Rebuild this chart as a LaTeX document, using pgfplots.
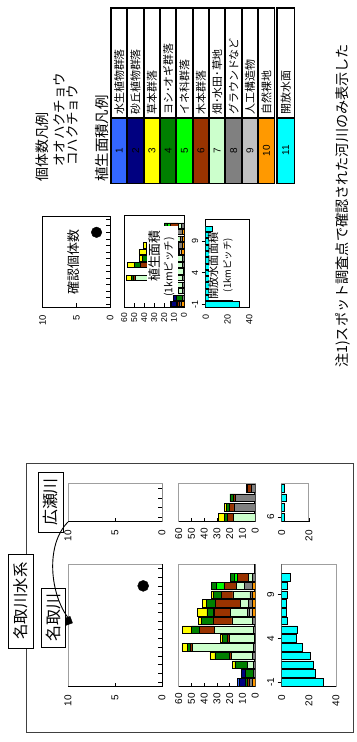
\documentclass[border=0pt]{standalone}
\usepackage{fontspec}
\setmainfont{Liberation Sans}
\newfontfamily\jp{Noto Sans CJK JP}
\usepackage{pgfplots}
\usepackage{pgfplotstable}
\pgfplotsset{compat=1.18}

\definecolor{c1}{RGB}{51,102,255}
\definecolor{c2}{RGB}{0,0,128}
\definecolor{c3}{RGB}{255,255,0}
\definecolor{c4}{RGB}{0,128,0}
\definecolor{c5}{RGB}{0,255,0}
\definecolor{c6}{RGB}{153,51,0}
\definecolor{c7}{RGB}{204,255,204}
\definecolor{c8}{RGB}{128,128,128}
\definecolor{c9}{RGB}{192,192,192}
\definecolor{c10}{RGB}{255,153,0}
\definecolor{c11}{RGB}{0,255,255}

\newcommand{\fs}[1]{\fontsize{#1}{#1}\selectfont}

% Natori river: vegetation area per 1 km (ha), categories 1..10
\pgfplotstableread{
km c1 c2 c3 c4 c5 c6 c7 c8 c9 c10
-1 1.6 4.5 0 1.5 0 2.1 0 2.1 0 2.3
0 0 2.7 0 6.5 0 0 0 1.5 0 0
1 0 0 1.8 10 0 0 4.7 1.3 0 0
2 0 0 3.9 11.2 0 1.5 16.9 2 0 0
3 0 0 4.4 2.1 0 2.1 47.5 1.5 0 0
4 0 0 1.8 3.5 0 1.8 19.3 1 0 0
5 0 0 7 6 0 11.7 30.7 1.5 0 0
6 0 0 2.5 8.8 0 14.9 16.4 2 0 0
7 0 0 7.3 5.2 1 12 13.8 1.3 2.1 2.6
8 0 0 3.1 7 0 19.6 6 3.4 0 2.1
9 0 0 1.8 6.5 0 8.9 13.3 2.1 0 2.1
10 0 0 0 3.9 5.7 9.7 6.3 6.5 0 2.1
11 0 0 0 2.9 2.6 8.4 3.4 2.3 0 0
}\vegN
\pgfplotstableread{
km w
-1 30.5
0 24.5
1 23.3
2 21.3
3 15.5
4 10.5
5 11.5
6 4.4
7 3.7
8 3.7
9 4.4
10 4.2
11 6.1
}\watN
% Hirose river
\pgfplotstableread{
km c1 c2 c3 c4 c5 c6 c7 c8 c9 c10
6 0 0 4.3 2.5 0 5 17 0 0 0
7 0 0 1.5 2.2 0 3.5 0 16.8 0 0
8 0 0 0 2.6 0 1.9 0 15.5 0 0
9 0 0 0 1.2 0 2.5 0 3.5 0 0
}\vegH
\pgfplotstableread{
km w
6 2
7 2
8 3.2
9 2
}\watH

\pgfplotsset{
  base/.style={scale only axis, anchor=center,
    /pgf/number format/assume math mode=true,
    tick label style={font=\fs{10}},
    xticklabel style={rotate=90, anchor=east},
    yticklabel style={rotate=90, anchor=south},
    tick style={black, line width=0.6pt},
    major tick length=4bp,
    xtick pos=bottom,
    axis line style={draw=gray!75, line width=0.8pt}},
  cnt/.style={base, xmin=0, xmax=10, x dir=reverse, xtick={0,5,10}, ytick pos=right, yticklabels={}, xticklabel shift=5bp},
  veg/.style={base, xmin=0, xmax=60, x dir=reverse, xtick={0,10,...,60}, ytick=\empty, xbar stacked, xticklabel shift=3bp},
  wat/.style={base, xmin=0, xbar, ytick pos=left, xticklabel shift=5bp},
  blackbox/.style={axis line style={draw=black, line width=1pt}},
}
\newcommand{\vegplots}[1]{%
  \pgfplotsinvokeforeach{10,9,8,7,6,5,4,3,2,1}{%
    \addplot[fill=c##1, draw=black, line width=0.5pt] table[x=c##1, y=km]{#1};}}

\begin{document}
\begin{tikzpicture}
\useasboundingbox (0bp,0bp) rectangle (357bp,-742bp);
\fill[white] (0bp,0bp) rectangle (357bp,-742bp);

% ---------------- Natori river ----------------
\begin{axis}[cnt, at={(115bp,-625.25bp)}, width=94bp, height=122.5bp,
  ymin=-1.5, ymax=12.5, ytick={-1,...,12}, clip=false]
\addplot[only marks, mark=*, mark size=5.5bp, black] coordinates {(2,10)};
\addplot[only marks, mark=square*, mark size=3.5bp, black, mark options={rotate=20}] coordinates {(10,6)};
\draw[black, line width=1pt] (axis cs:0,-1.5) -- (axis cs:0,12.5);
\draw[black, line width=1pt] (axis cs:0,-1.5) -- (axis cs:10,-1.5);
\end{axis}

\begin{axis}[veg, at={(217bp,-625.25bp)}, width=76.6bp, height=122.5bp,
  ymin=-1.5, ymax=12.5, bar width=7.4bp]
\vegplots{\vegN}
\draw[black, line width=1.8pt] (axis cs:0,-1.5) -- (axis cs:0,12.5);
\draw[black, line width=1pt] (axis cs:0,-1.5) -- (axis cs:60,-1.5);
\end{axis}

\begin{axis}[wat, at={(308.85bp,-625.25bp)}, width=54.3bp, height=122.5bp,
  xmax=40, xtick={0,20,40}, ymin=-1.5, ymax=12.5, ytick={-1,4,9}, bar width=7.4bp]
\addplot[fill=c11, draw=black, line width=0.5pt] table[x=w, y=km]{\watN};
\draw[black, line width=1.4pt] (axis cs:0,-1.5) -- (axis cs:0,12.5);
\draw[black, line width=1pt] (axis cs:0,-1.5) -- (axis cs:40,-1.5);
\end{axis}

% ---------------- Hirose river ----------------
\begin{axis}[cnt, at={(115bp,-502.6bp)}, width=94bp, height=38.2bp,
  ymin=5.5, ymax=9.5, ytick={6,7,8,9}]
\draw[black, line width=1pt] (axis cs:0,5.5) -- (axis cs:0,9.5);
\draw[black, line width=1pt] (axis cs:0,5.5) -- (axis cs:10,5.5);
\end{axis}

\begin{axis}[veg, at={(217bp,-502.6bp)}, width=76.6bp, height=38.2bp,
  ymin=5.5, ymax=9.5, bar width=7.8bp]
\vegplots{\vegH}
\draw[black, line width=1.8pt] (axis cs:0,5.5) -- (axis cs:0,9.5);
\draw[black, line width=1pt] (axis cs:0,5.5) -- (axis cs:60,5.5);
\end{axis}

\begin{axis}[wat, at={(295.3bp,-502.6bp)}, width=27.15bp, height=38.2bp,
  xmax=20, xtick={0,20}, ymin=5.5, ymax=9.5, ytick={6}, bar width=7.8bp]
\addplot[fill=c11, draw=black, line width=0.5pt] table[x=w, y=km]{\watH};
\draw[black, line width=1.4pt] (axis cs:0,5.5) -- (axis cs:0,9.5);
\draw[black, line width=1pt] (axis cs:0,5.5) -- (axis cs:20,5.5);
\end{axis}

% ---------------- legend sample panels ----------------
\begin{axis}[cnt, blackbox, at={(76.35bp,-261.65bp)}, width=67.3bp, height=91.3bp,
  ymin=-1.5, ymax=12.5, ytick={-1,...,12}, tick label style={font=\fs{9.5}}, xticklabel shift=4bp]
\addplot[only marks, mark=*, mark size=5.3bp, black] coordinates {(2,10)};
\end{axis}

\begin{axis}[veg, blackbox, at={(154.15bp,-261.5bp)}, width=59.7bp, height=91.6bp,
  ymin=-1.5, ymax=12.5, bar width=5.3bp, tick label style={font=\fs{8.5}}, xticklabel shift=2bp]
\vegplots{\vegN}
\end{axis}

\begin{axis}[wat, blackbox, at={(227.5bp,-263.3bp)}, width=43.6bp, height=88bp,
  xmax=40, xtick={0,20,40}, ymin=-1.5, ymax=12.5, ytick={-1,4,9}, bar width=5.2bp,
  tick label style={font=\fs{9}}, xticklabel shift=4bp]
\addplot[fill=c11, draw=black, line width=0.5pt] table[x=w, y=km]{\watN};
\end{axis}

% ---------------- texts, frames, legend table ----------------
\begin{scope}[x=1bp, y=-1bp]
\draw[black!75, line width=1pt] (26,463) rectangle (353,732);
\node[draw, line width=0.9pt, fill=white, rotate=90, minimum width=94bp, minimum height=25bp, inner sep=0pt, font=\jp\fs{15.5}] at (20.5,601) {名取川水系};
\node[draw, line width=0.9pt, fill=white, rotate=90, minimum width=59bp, minimum height=24bp, inner sep=0pt, font=\jp\fs{16}] at (53,617.5) {名取川};
\node[draw, line width=0.9pt, fill=white, rotate=90, minimum width=60bp, minimum height=25bp, inner sep=0pt, font=\jp\fs{16}] at (50.5,502) {広瀬川};
\draw[line width=0.9pt] (69,619) .. controls (50,595) and (45,545) .. (68,522);

% sample panel captions
\node[rotate=90, font=\jp\fs{13}] at (74,262) {確認個体数};
\fill[white] (147,226) rectangle (178,295);
\node[rotate=90, font=\jp\fs{13}] at (155,256) {植生面積};
\node[rotate=90, font=\jp\fs{10.5}] at (169,267) {(1kmピッチ)};
\fill[white] (208.5,233) rectangle (240,300);
\node[rotate=90, font=\jp\fs{11.3}] at (213,266) {開放水面面積};
\node[rotate=90, font=\jp\fs{9.5}] at (228,265) {(1kmピッチ)};

% legend headings
\node[rotate=90, anchor=west, inner sep=0pt, font=\jp\fs{14}] at (42,182) {個体数凡例};
\node[rotate=90, anchor=west, inner sep=0pt, font=\jp\fs{13.5}] at (59,167) {オオハクチョウ};
\node[rotate=90, anchor=west, inner sep=0pt, font=\jp\fs{13.5}] at (72,166) {コハクチョウ};
\node[rotate=90, anchor=west, inner sep=0pt, font=\jp\fs{14.5}] at (102,182) {植生面積凡例};

% colour legend table
\foreach \i [evaluate=\i as \xa using 111+(\i-1)*16.35,
             evaluate=\i as \xb using 111+\i*16.35,
             evaluate=\i as \xc using 111+(\i-0.5)*16.35] in {1,...,10} {
  \fill[c\i] (\xa,118) rectangle (\xb,183.5);
  \node[rotate=90, font=\fs{10}] at (\xc,150.5) {\i};
}
\foreach \i/\lab [evaluate=\i as \xc using 111+(\i-0.5)*16.35] in
  {1/水生植物群落, 2/砂丘植物群落, 3/草本群落, 4/ヨシ･オギ群落, 5/イネ科群落,
   6/木本群落, 7/畑･水田･草地, 8/グラウンドなど, 9/人工構造物, 10/自然裸地} {
  \node[rotate=90, anchor=west, inner sep=0pt, font=\jp\fs{11}] at (\xc,115) {\lab};
}
\foreach \i [evaluate=\i as \xa using 111+\i*16.35] in {1,...,9} {
  \draw[line width=2pt] (\xa,8) -- (\xa,183.5);
}
\draw[line width=2pt] (111,118) -- (274.5,118);
\draw[line width=2pt] (111,8) rectangle (274.5,183.5);
\fill[c11] (277,118) rectangle (294.5,183.5);
\node[rotate=90, font=\fs{10}] at (285.75,150.5) {11};
\node[rotate=90, anchor=west, inner sep=0pt, font=\jp\fs{11}] at (285.75,115) {開放水面};
\draw[line width=2pt] (277,118) -- (294.5,118);
\draw[line width=2pt] (277,8) rectangle (294.5,183.5);

% footnote
\node[rotate=90, anchor=west, inner sep=0pt, font=\jp\fs{14.2}] at (343,368) {注1)スポット調査点で確認された河川のみ表示した};
\end{scope}
\end{tikzpicture}
\end{document}
